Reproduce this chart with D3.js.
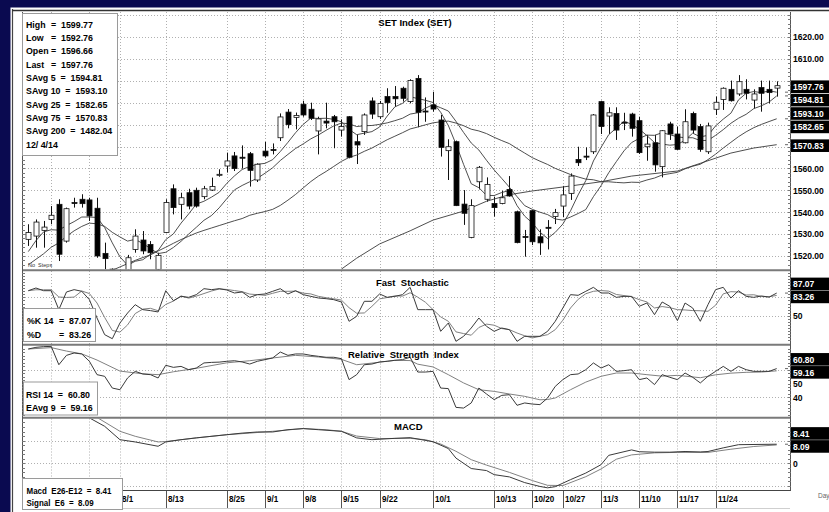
<!DOCTYPE html>
<html>
<head>
<meta charset="utf-8">
<script src="https://cdn.jsdelivr.net/npm/d3@7/dist/d3.min.js"></script>
<style>
html,body{margin:0;padding:0;background:#fff;overflow:hidden;}
svg{display:block;}
text{font-family:"Liberation Sans",Arial,Helvetica,sans-serif;white-space:pre;}
</style>
</head>
<body>
<svg id="chart" width="829" height="512"></svg>
<script>
// ---------------- DATA ----------------
const opens = [1527.6,1529.1,1531.7,1536.7,1543.6,1526.8,1544.4,1545.9,1545.6,1541.8,
1521.2,1514.0,1508.0,1513.0,1523.0,1527.3,1525.3,1513.9,1530.7,1550.7,
1543.6,1548.9,1550.0,1547.1,1550.1,1557.1,1561.1,1565.7,1565.1,1566.7,
1554.7,1567.9,1568.6,1574.0,1585.7,1583.3,1589.3,1587.0,1577.1,1581.6,
1583.6,1577.5,1583.6,1572.2,1576.8,1590.8,1583.6,1592.8,1592.8,1596.6,
1590.5,1601.1,1586.2,1589.0,1582.1,1568.1,1572.2,1543.7,1528.5,1553.9,
1545.9,1544.0,1544.0,1550.4,1540.2,1528.9,1540.7,1528.8,1533.1,1538.0,
1542.8,1548.6,1564.1,1565.6,1567.6,1590.5,1583.9,1585.1,1581.1,1584.8,
1581.8,1569.9,1571.7,1560.8,1580.3,1575.7,1571.7,1585.1,1579.1,1567.6,
1587.0,1591.5,1596.1,1594.0,1596.1,1591.2,1596.9,1596.1,1596.66];
const highs = [1534.5,1536.7,1536.0,1542.8,1545.9,1542.1,1546.6,1548.2,1546.6,1546.6,
1526.1,1514.3,1514.0,1520.5,1532.2,1531.4,1526.8,1521.5,1545.9,1552.7,
1548.9,1550.7,1551.2,1552.0,1555.8,1559.6,1567.2,1567.5,1570.5,1567.5,
1562.3,1572.1,1571.4,1585.1,1587.1,1585.5,1590.9,1590.0,1583.6,1590.0,
1584.4,1582.4,1583.9,1575.3,1585.1,1592.4,1590.8,1596.6,1597.6,1597.3,
1600.7,1602.6,1592.4,1595.0,1584.4,1573.3,1572.7,1550.1,1545.9,1561.1,
1555.9,1547.1,1549.8,1556.5,1540.7,1531.9,1541.0,1532.2,1536.4,1541.5,
1552.0,1557.7,1569.9,1569.6,1584.8,1590.9,1587.9,1587.9,1585.4,1585.4,
1583.6,1575.3,1575.3,1577.5,1581.3,1579.1,1587.0,1585.9,1580.3,1580.9,
1592.8,1597.0,1600.1,1602.6,1600.7,1596.1,1600.1,1600.1,1599.77];
const lows = [1524.6,1523.8,1523.8,1534.5,1517.7,1526.1,1542.1,1542.1,1536.0,1519.2,
1513.9,1506.0,1505.0,1510.0,1521.5,1520.8,1518.5,1512.0,1530.4,1539.0,
1536.7,1541.3,1542.1,1545.9,1549.7,1556.2,1558.1,1558.8,1559.9,1551.7,
1553.8,1564.9,1566.4,1572.5,1578.3,1577.8,1583.6,1582.1,1566.4,1578.3,
1569.2,1574.5,1564.6,1562.0,1575.3,1582.6,1582.6,1585.4,1588.2,1590.5,
1589.7,1578.8,1581.3,1585.9,1565.4,1554.7,1542.8,1534.2,1528.1,1550.4,
1544.8,1538.0,1543.6,1547.1,1525.8,1519.7,1525.0,1520.5,1523.0,1534.6,
1537.7,1545.6,1561.1,1563.8,1566.6,1575.7,1575.7,1573.0,1577.5,1574.5,
1566.6,1563.5,1558.5,1555.9,1573.0,1568.4,1571.4,1576.0,1567.6,1566.6,
1584.4,1586.7,1590.5,1593.1,1591.5,1587.4,1585.9,1589.7,1592.76];
const closes = [1530.7,1535.5,1533.2,1538.6,1520.8,1541.6,1544.2,1543.9,1538.3,1520.0,
1518.8,1509.0,1512.0,1519.2,1529.1,1522.3,1521.5,1520.3,1544.4,1542.1,
1546.6,1542.8,1542.8,1550.7,1551.7,1557.3,1563.4,1559.9,1565.0,1559.1,
1561.9,1565.7,1568.4,1583.5,1580.0,1584.2,1584.4,1582.9,1582.6,1580.7,
1581.3,1579.1,1565.1,1570.7,1584.4,1584.8,1589.7,1590.0,1591.8,1592.0,
1600.1,1585.6,1585.8,1587.1,1569.6,1569.9,1543.0,1539.5,1543.0,1560.5,
1552.7,1542.1,1546.6,1547.4,1526.1,1528.7,1526.5,1526.0,1532.8,1539.8,
1547.9,1556.5,1562.6,1565.4,1584.4,1579.1,1585.4,1577.5,1580.9,1578.3,
1567.2,1571.1,1561.6,1577.2,1575.7,1568.7,1581.3,1577.5,1568.7,1579.4,
1590.2,1596.6,1590.9,1599.6,1594.3,1594.0,1594.3,1594.6,1597.76];

const sma5 = [1522,1527,1531,1532,1531.8,1533.9,1535.7,1537.8,1537.8,1537.6,
1533.0,1526.0,1519.6,1515.8,1517.6,1518.3,1520.8,1522.5,1527.5,1530.1,
1535.0,1539.2,1543.7,1545.0,1546.9,1549.1,1553.2,1556.6,1559.5,1560.9,
1561.9,1562.3,1564.0,1567.7,1571.9,1576.3,1580.1,1583.0,1582.8,1582.9,
1582.4,1581.3,1577.8,1575.4,1576.1,1576.8,1578.9,1583.9,1588.1,1589.7,
1592.7,1591.9,1591.1,1590.1,1585.6,1579.6,1571.1,1561.8,1553.0,1551.2,
1547.7,1547.6,1549.0,1549.9,1543.0,1538.2,1535.1,1530.9,1528.0,1530.8,
1534.6,1540.6,1547.9,1554.4,1563.4,1569.6,1575.4,1578.4,1581.5,1580.2,
1577.9,1575.0,1571.8,1571.1,1570.6,1570.9,1572.9,1576.1,1574.4,1575.1,
1579.4,1582.5,1585.2,1591.3,1594.3,1595.1,1594.6,1595.4,1594.81];
const sma10 = [1516,1518.5,1521,1524,1526,1529,1531.5,1533.5,1535,1534.7,
1533.5,1530.8,1528.7,1526.8,1527.6,1525.7,1523.4,1521.1,1521.7,1523.9,
1526.7,1530.0,1533.1,1536.3,1538.5,1542.0,1546.2,1550.2,1552.2,1553.9,
1555.5,1557.8,1560.3,1563.6,1566.4,1569.1,1571.2,1573.5,1575.3,1577.4,
1579.4,1580.7,1580.4,1579.1,1579.5,1579.6,1580.1,1580.8,1581.8,1582.9,
1584.8,1585.4,1587.5,1589.1,1587.7,1586.2,1581.5,1576.4,1571.6,1568.4,
1563.7,1559.3,1555.4,1551.4,1547.1,1543.0,1541.3,1540.0,1538.9,1536.9,
1536.4,1537.8,1539.4,1541.2,1547.1,1552.1,1558.0,1563.1,1568.0,1571.8,
1573.7,1575.2,1575.1,1576.3,1575.4,1574.4,1574.0,1574.0,1572.7,1572.8,
1575.1,1577.7,1580.6,1582.9,1584.7,1587.3,1588.6,1590.3,1593.10];
const sma25Start = 11;
const sma25 = [1513.5,1515,1516.5,1518,1519.3,1520.5,1522.3,1524,1525.8,1527.5,1529,1530.5,1531.7,
1532.8,1533.9,1535.0,1536.1,1537.1,1538.6,1539.5,1540.3,1541.3,1543.1,1545.5,1548.1,1551.1,1554.0,
1556.5,1558.6,1560.9,1563.2,1565.0,1566.1,1567.8,1569.3,1571.2,1573.1,1574.7,1576.3,1578.0,1578.9,
1579.9,1580.8,1581.3,1581.6,1580.7,1579.5,1577.9,1577.1,1575.9,1574.2,1572.7,1571.3,1569.1,1567.0,
1564.9,1563.3,1561.8,1560.0,1558.6,1557.2,1556.1,1555.1,1554.8,1553.9,1553.9,1553.6,1553.4,1553.7,
1553.6,1554.7,1555.6,1557.0,1557.6,1558.2,1559.8,1561.0,1561.9,1564.0,1566.5,1569.3,1571.9,1574.5,
1576.7,1578.6,1580.1,1581.4,1582.65];
const sma75Idx = [41,43,46,50,53,57,60,63,66,70,75,79,85,89,92,95,98];
const sma75 = [1514,1519,1525.5,1531.5,1536.4,1540.5,1545,1548,1549.7,1551.5,1553.9,1556.5,1558.8,1563.5,1567,1569.3,1570.83];
const sma200Last = 1482.04;
const lastDateLabel = "12/ 4/14";

const stochK = [91,95.4,91,91,59.9,88.9,92.7,90,76.3,46.2,
18.9,12.3,38,54.4,68.1,59.9,58.3,56.1,91,74.6,
81.7,80.1,84.5,94.3,92.7,94.3,92.1,87.2,88.9,80.1,
84.5,85.6,90,94.3,85.6,91,84.5,81.7,79,77.9,
76.3,72.5,40.8,49,73.6,73.6,85.6,80.1,81.7,84.5,
96.5,59.9,59.9,59.9,24.4,38,8,16.2,29.8,46.2,
32.6,24.4,29.8,27.1,8,16.2,16.2,16.2,24.4,40.8,
62.6,84.5,83.4,90,96.5,87.2,87.2,80.1,81.7,81.7,
65.4,70.8,51.7,72.5,65.4,41.9,70.8,62.6,40.8,68.1,
92.7,96.5,79,91,81.7,80.1,82.3,80.5,87.07];
const stochD = [91,92.5,92.5,92.5,80.6,79.9,80.5,90.5,86.3,70.8,
47.1,25.8,23.1,34.9,53.5,60.8,62.1,58.1,68.5,73.9,
82.4,78.8,82.1,86.3,90.5,93.8,93,91.2,89.4,85.4,
84.5,83.4,86.7,90,90,90.3,87,85.7,81.7,79.5,
77.7,75.6,63.2,54.1,54.5,65.4,77.6,79.8,82.5,82.1,
87.6,80.3,72.1,59.9,48.1,40.8,23.5,20.7,18,30.7,
36.2,34.4,28.9,27.1,21.6,17.1,13.5,16.2,18.9,27.1,
42.6,62.6,76.8,86,90,91.2,90.3,84.8,83,81.2,
76.3,72.6,62.6,65,63.2,59.9,59.4,58.4,58.1,57.2,
67.2,85.8,89.4,88.8,83.9,84.3,81.4,81,83.26];

const rsi = [75,76.2,76.7,76.9,63.6,70.4,72.1,71.4,66.1,56.4,
55.2,46.7,45.5,54,58.8,56.9,56.4,54,63.2,61.7,
62.4,60,61.2,64.9,65.3,65.5,66.1,66.5,65.6,64.1,
66.1,67.3,68.5,72.8,70.4,71.4,71.4,70.4,69.7,69,
69,68,52.8,56.4,63.6,64.1,65.6,66.1,66.8,67.3,
69,58.3,58.3,58.8,46.7,46.3,32.7,32.2,35.9,46.7,
42.4,38.3,41.4,41.9,34.2,35.9,35.1,34.7,39.5,47.9,
52.8,56.4,56.9,60,64.9,61.2,63.6,58.8,59.3,60,
52.8,54,49.2,56.4,54.5,52.8,57.6,54.5,50.4,55.2,
58.8,62.4,58.8,62.4,60,58.8,58.8,58.8,60.80];
const rsiAvgIdx = [0,3,5,7,9,12,15,17,19,22,26,29,32,35,38,41,43,45,48,50,51,53,55,57,59,61,63,65,67,68,69,71,73,75,77,79,81,83,85,88,90,92,94,96,98];
const rsiAvg = [75,76,73.5,71.5,67,59,57,56.4,58.5,61,65,66.5,68.5,70.4,69.2,67.5,63.6,64.8,66.8,66.6,64,62,56.4,50.4,45.5,44.3,42.4,40.7,38.2,38.4,39.5,45.5,51,55.2,57.6,57.6,56.4,55.3,55.9,54.2,56.3,57.5,58.1,58.3,59.16];

const macdIdx = [0,4,8,10,12,14,17,18,20,22,26,28,30,32,34,36,38,41,43,45,48,50,53,55,56,58,60,61,63,65,67,68,69,71,73,75,76,79,80,82,84,86,88,89,91,93,98];
const macdVals = [30,26,20,16.3,10.4,9.4,7.5,9.4,10.4,11.2,12.6,13.3,13.8,13.8,14.8,15.3,14.8,14.1,11.2,10.4,11,11.3,9.5,6.5,2.3,-2.3,-3.2,-5,-6,-8.5,-10.2,-10.8,-10.3,-7.2,-4.3,-0.6,3.5,5.9,5.1,4.9,4.9,5.2,5,5.2,6.8,8.2,8.41];
const signalIdx = [0,5,9,12,14,17,18,22,26,29,32,36,39,41,43,46,50,52,54,56,58,60,63,66,68,70,73,75,77,79,82,85,89,92,95,98];
const signalVals = [34,27,20.2,14.1,11.9,9.4,9.6,11.2,12.6,13.3,14.1,15.3,14.8,14.1,12,10.9,11,10.4,8.5,5.3,1.6,-0.8,-4,-7.6,-9.7,-9.8,-5.9,-2.5,1.8,3.7,4.6,4.8,4.8,6.2,7.4,8.09];

const dateLabels = ["8/1","8/13","8/25","9/1","9/8","9/15","9/22","10/1","10/13","10/20","10/27","11/3","11/10","11/17","11/24"];
const dateIdx = [12,18,26,31,36,41,46,53,61,66,70,75,80,85,90];
const extraGridIdx = [3,8];

const priceGrid = [1520,1530,1540,1550,1560,1570,1580,1590,1600,1610,1620,1630];
const priceTickLabels = [1520,1530,1540,1550,1560,1610,1620];
const stochGrid = [50,80];
const stochTickLabels = [50];
const rsiGrid = [40,60];
const rsiTickLabels = [50,40];
const macdGrid = [-10,0,10];
const macdTickLabels = [0];

// ---------------- LAYOUT ----------------
const W = 829, H = 512;
const NAVY = '#0a0a50';
const plotL = 22, plotR = 790;
const P = {
  main:  {t: 12,    b: 269.5},
  stoch: {t: 271,   b: 344},
  rsi:   {t: 345.5, b: 417},
  macd:  {t: 418.5, b: 490}
};
const x = d3.scaleLinear().domain([0, 98]).range([28.3, 776.7]);
const yMain  = d3.scaleLinear().domain([1520, 1620]).range([256, 37]);
const yStoch = d3.scaleLinear().domain([50, 80]).range([315.7, 297.4]);
const yRsi   = d3.scaleLinear().domain([40, 60]).range([397.3, 369.7]);
const yMacd  = d3.scaleLinear().domain([-10, 10]).range([486, 440.6]);
const f2 = d3.format('.2f');

const svg = d3.select('#chart');
svg.append('rect').attr('width', W).attr('height', H).attr('fill', '#fff');

const defs = svg.append('defs');
Object.entries(P).forEach(([k, p]) => {
  defs.append('clipPath').attr('id', 'clip-' + k).append('rect')
    .attr('x', plotL).attr('y', p.t).attr('width', plotR - plotL).attr('height', p.b - p.t);
});

function txt(g, xx, yy, s, o) {
  o = o || {};
  return g.append('text')
    .attr('transform', `translate(${xx},${yy}) scale(${o.sx || 1},1)`)
    .attr('font-size', o.size || 9)
    .attr('font-weight', o.weight || 'bold')
    .attr('fill', o.fill || '#000')
    .attr('text-anchor', o.anchor || 'start')
    .text(s);
}

// ---------------- GRID ----------------
const grid = svg.append('g').attr('stroke', '#b0b0b0').attr('stroke-width', 1).attr('stroke-dasharray', '1,2');
[[P.main, yMain, priceGrid], [P.stoch, yStoch, stochGrid], [P.rsi, yRsi, rsiGrid], [P.macd, yMacd, macdGrid]]
  .forEach(([p, sc, vals]) => {
    vals.forEach(v => {
      const yy = Math.round(sc(v)) + 0.5;
      if (yy > p.t + 1 && yy < p.b - 1)
        grid.append('line').attr('x1', plotL).attr('x2', plotR).attr('y1', yy).attr('y2', yy);
    });
  });
const allGridIdx = extraGridIdx.concat(dateIdx);
Object.values(P).forEach(p => {
  allGridIdx.forEach(i => {
    const xx = Math.round(x(i)) + 0.5;
    grid.append('line').attr('x1', xx).attr('x2', xx).attr('y1', p.t).attr('y2', p.b);
  });
});
const sep = svg.append('g').attr('stroke', '#555').attr('stroke-width', 1);
allGridIdx.forEach(i => {
  const xx = Math.round(x(i)) + 0.5;
  sep.append('line').attr('x1', xx).attr('x2', xx).attr('y1', 490).attr('y2', 508);
});

// ---------------- MAIN: candles + MAs ----------------
const gMain = svg.append('g').attr('clip-path', 'url(#clip-main)');
const candles = opens.map((o, i) => ({i, o, h: highs[i], l: lows[i], c: closes[i]}));
gMain.selectAll('line.wick').data(candles).enter().append('line')
  .attr('x1', d => Math.round(x(d.i)) + 0.5).attr('x2', d => Math.round(x(d.i)) + 0.5)
  .attr('y1', d => yMain(d.h)).attr('y2', d => yMain(d.l))
  .attr('stroke', '#111').attr('stroke-width', 1);

const line = (sc) => d3.line().x(d => x(d[0])).y(d => sc(d[1]));
const gMA = gMain.append('g').attr('fill', 'none').attr('stroke', '#3a3a3a').attr('stroke-width', 0.9);
gMA.append('path').attr('d', line(yMain)(sma5.map((v, i) => [i, v])));
gMA.append('path').attr('d', line(yMain)(sma10.map((v, i) => [i, v])));
gMA.append('path').attr('d', line(yMain)(sma25.map((v, k) => [k + sma25Start, v])));
gMA.append('path').attr('d', line(yMain)(sma75.map((v, k) => [sma75Idx[k], v])));

gMain.selectAll('rect.body').data(candles).enter().append('rect')
  .attr('x', d => Math.round(x(d.i)) - 2)
  .attr('y', d => yMain(Math.max(d.o, d.c)))
  .attr('width', 5)
  .attr('height', d => Math.max(1, Math.abs(yMain(d.o) - yMain(d.c))))
  .attr('fill', d => d.c >= d.o ? '#fff' : '#000')
  .attr('stroke', '#111').attr('stroke-width', 0.8);

txt(svg, 28, 267, 'No  Steps', {size: 5.5, weight: 'normal', fill: '#333'});

// ---------------- LOWER PANELS ----------------
function twoLines(key, sc, a, b) {
  const g = svg.append('g').attr('clip-path', `url(#clip-${key})`).attr('fill', 'none');
  g.append('path').attr('d', line(sc)(b)).attr('stroke', '#808080').attr('stroke-width', 1);
  g.append('path').attr('d', line(sc)(a)).attr('stroke', '#3a3a3a').attr('stroke-width', 1);
}
twoLines('stoch', yStoch, stochK.map((v, i) => [i, v]), stochD.map((v, i) => [i, v]));
twoLines('rsi', yRsi, rsi.map((v, i) => [i, v]), rsiAvg.map((v, k) => [rsiAvgIdx[k], v]));
twoLines('macd', yMacd, macdVals.map((v, k) => [macdIdx[k], v]), signalVals.map((v, k) => [signalIdx[k], v]));

// ---------------- FRAME / SEPARATORS ----------------
svg.append('rect').attr('x', 0).attr('y', 0).attr('width', W).attr('height', 7.5).attr('fill', NAVY);
svg.append('rect').attr('x', 0).attr('y', 0).attr('width', 10.5).attr('height', H).attr('fill', NAVY);
svg.append('line').attr('x1', 12.5).attr('x2', 12.5).attr('y1', 9).attr('y2', H).attr('stroke', '#444').attr('stroke-width', 1.2);
svg.append('line').attr('x1', 12).attr('x2', W).attr('y1', 10.5).attr('y2', 10.5).attr('stroke', '#333').attr('stroke-width', 1.6);
const sepG = svg.append('g').attr('stroke', '#7a7a7a').attr('stroke-width', 2);
[P.main.b + 0.7, P.stoch.b + 0.7, P.rsi.b + 0.7].forEach(yy =>
  sepG.append('line').attr('x1', plotL).attr('x2', plotR + 1).attr('y1', yy).attr('y2', yy));
svg.append('line').attr('x1', plotL).attr('x2', plotR + 1).attr('y1', 490.5).attr('y2', 490.5).attr('stroke', '#444').attr('stroke-width', 1);
svg.append('line').attr('x1', plotL).attr('x2', plotR).attr('y1', 508.5).attr('y2', 508.5).attr('stroke', '#cfcfcf').attr('stroke-width', 1);

const ax = svg.append('g').attr('stroke', '#555').attr('stroke-width', 1);
ax.append('line').attr('x1', plotL + 0.5).attr('x2', plotL + 0.5).attr('y1', P.main.t).attr('y2', 490.5);
ax.append('line').attr('x1', plotR + 0.5).attr('x2', plotR + 0.5).attr('y1', P.main.t).attr('y2', 490.5);
const minor = [[P.main, yMain, d3.range(1514, 1634, 2)], [P.stoch, yStoch, d3.range(-10, 125, 5)],
               [P.rsi, yRsi, d3.range(20, 82, 2.5)], [P.macd, yMacd, d3.range(-14, 22, 2)]];
minor.forEach(([p, sc, vals]) => vals.forEach(v => {
  const yy = Math.round(sc(v)) + 0.5;
  if (yy <= p.t + 1 || yy >= p.b - 1) return;
  ax.append('line').attr('x1', plotL).attr('x2', plotL + 3).attr('y1', yy).attr('y2', yy).attr('stroke', '#777');
  ax.append('line').attr('x1', plotR - 2).attr('x2', plotR + 1).attr('y1', yy).attr('y2', yy).attr('stroke', '#777');
}));

// ---------------- TITLES ----------------
txt(svg, 415, 25.5, 'SET Index (SET)', {size: 9.5, anchor: 'middle'});
txt(svg, 376, 285.5, 'Fast  Stochastic', {size: 9.5});
txt(svg, 348, 357.5, 'Relative  Strength  Index', {size: 9.5});
txt(svg, 394, 429.5, 'MACD', {size: 9.5});

// ---------------- RIGHT LABELS ----------------
const rl = svg.append('g');
function tickLabels(sc, vals) {
  vals.forEach(v => txt(rl, 793, sc(v) + 3.3, v >= 1000 ? f2(v) : String(v), {size: 9.5, sx: 0.9}));
}
tickLabels(yMain, priceTickLabels);
tickLabels(yStoch, stochTickLabels);
tickLabels(yRsi, rsiTickLabels);
tickLabels(yMacd, macdTickLabels);

function highlight(cy, v) {
  rl.append('rect').attr('x', 791).attr('y', cy - 6.3).attr('width', 38).attr('height', 12.6).attr('fill', '#000');
  txt(rl, 793, cy + 3.3, f2(v), {size: 9.5, sx: 0.9, fill: '#fff'});
}
function marker(yy) {
  rl.append('line').attr('x1', 785).attr('x2', 788).attr('y1', yy).attr('y2', yy).attr('stroke', '#666').attr('stroke-width', 1);
}
const mainLast = [closes[98], sma5[98], sma10[98], sma25[sma25.length - 1], sma75[sma75.length - 1]];
let prev = -Infinity;
mainLast.forEach((v, k) => {
  let cy = yMain(v) + 1;
  if (k > 0) cy = Math.max(cy, prev + 13.4);
  prev = cy;
  highlight(cy, v);
  if (k > 0) marker(yMain(v));
});
function pairLabels(sc, a, b) {
  const c2 = sc(Math.min(a, b)) + 1.5;
  highlight(c2 - 13, a);
  highlight(c2, b);
  marker(sc(a));
}
pairLabels(yStoch, stochK[98], stochD[98]);
pairLabels(yRsi, rsi[98], rsiAvg[rsiAvg.length - 1]);
pairLabels(yMacd, macdVals[macdVals.length - 1], signalVals[signalVals.length - 1]);

txt(svg, 818, 498, 'Day', {size: 6.5, weight: 'normal', fill: '#666'});

// ---------------- X LABELS ----------------
const xl = svg.append('g');
dateIdx.forEach((i, k) => txt(xl, Math.round(x(i)) + 2, 501.5, dateLabels[k], {size: 9.5, sx: 0.85}));

// ---------------- INFO BOXES ----------------
function box(x0, y0, w, h) {
  const g = svg.append('g');
  g.append('rect').attr('x', x0 + 0.5).attr('y', y0 + 0.5).attr('width', w).attr('height', h)
    .attr('fill', '#fff').attr('stroke', '#9a9a9a').attr('stroke-width', 1);
  return g;
}
const IB = {size: 9.5, sx: 0.93};
const b1 = box(22, 13, 95, 142);
const ohlcRows = [['High', highs[98]], ['Low', lows[98]], ['Open', opens[98]], ['Last', closes[98]]];
const maRows = [['SAvg 5', sma5[98]], ['SAvg 10', sma10[98]], ['SAvg 25', sma25[sma25.length - 1]],
                ['SAvg 75', sma75[sma75.length - 1]], ['SAvg 200', sma200Last]];
const rowY = r => 27.5 + r * 13.35;
ohlcRows.forEach(([lab, v], r) => {
  txt(b1, 26, rowY(r), lab, IB);
  txt(b1, 51, rowY(r), '=  ' + f2(v), IB);
});
maRows.forEach(([lab, v], r) => txt(b1, 26, rowY(r + 4), lab + '  =  ' + f2(v), IB));
txt(b1, 26, rowY(9), lastDateLabel, IB);

const b2 = box(23, 308, 72, 33);
txt(b2, 27, 324, '%K 14', IB);
txt(b2, 59, 324, '=  ' + f2(stochK[98]), IB);
txt(b2, 27, 337.5, '%D', IB);
txt(b2, 59, 337.5, '=  ' + f2(stochD[98]), IB);

const b3 = box(23, 381.5, 74, 33);
txt(b3, 26, 397.5, 'RSI 14  =  ' + f2(rsi[98]), IB);
txt(b3, 26, 410.5, 'EAvg 9  =  ' + f2(rsiAvg[rsiAvg.length - 1]), IB);

const b4 = box(22, 478, 100, 31);
txt(b4, 26.5, 493.5, 'Macd  E26-E12  =  ' + f2(macdVals[macdVals.length - 1]), {size: 9.5, sx: 0.84});
txt(b4, 26.5, 506, 'Signal  E6  =  ' + f2(signalVals[signalVals.length - 1]), {size: 9.5, sx: 0.84});
</script>
</body>
</html>
